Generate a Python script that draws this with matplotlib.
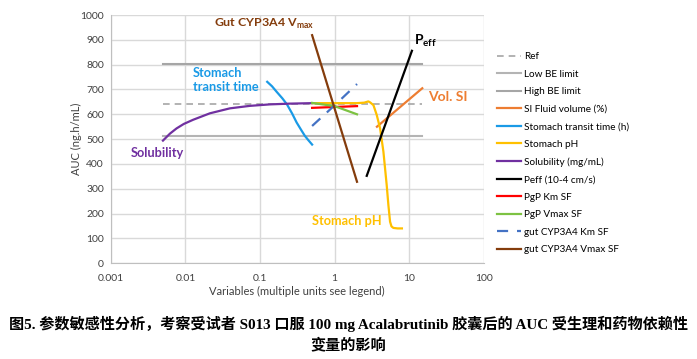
import matplotlib
matplotlib.use("Agg")
import matplotlib.pyplot as plt

plt.rcParams['font.family'] = ['Lato', 'DejaVu Sans']
plt.rcParams['mathtext.fontset'] = 'custom'
plt.rcParams['mathtext.rm'] = 'Lato'
plt.rcParams['mathtext.bf'] = 'Lato:bold'

# reference lines
ref_x = [0.005, 15]
ref_auc = 642
low_be = 514
high_be = 803

# sensitivity curves (x, AUC)
sifluid_x = [3.7, 15]
sifluid_y = [550, 705]

transit_x = [0.125, 0.145, 0.167, 0.2, 0.23, 0.27, 0.31, 0.36, 0.40, 0.45, 0.5]
transit_y = [731, 713, 691, 664, 640, 603, 567, 535, 513, 494, 478]

ph_x = [0.5, 1, 2, 2.5, 2.84, 3.0, 3.32, 3.68, 4.08, 4.52, 5.0, 5.27, 5.55, 5.8, 6.15, 7, 8]
ph_y = [645, 645, 645, 647, 652, 648, 637, 597, 543, 449, 315, 234, 167, 148, 142, 140, 140]

sol_x = [0.005, 0.0062, 0.0076, 0.0095, 0.0127, 0.0213, 0.0395, 0.073, 0.136, 0.25, 0.5]
sol_y = [494, 522, 543, 561, 578, 604, 624, 634, 640, 643, 645]

peff_x = [2.7, 10.9]
peff_y = [352, 856]

pgpkm_x = [0.5, 2]
pgpkm_y = [626, 633]

pgpvmax_x = [0.5, 1, 2]
pgpvmax_y = [646, 633, 600]

cypkm_x = [0.5, 1, 2]
cypkm_y = [553, 636, 722]

cypvmax_x = [0.5, 2]
cypvmax_y = [919, 328]

fig = plt.figure(figsize=(6.97, 3.59), dpi=100)
ax = fig.add_axes([0.159, 0.267, 0.535, 0.691])

ax.plot(ref_x, [ref_auc] * 2, color='#a6a6a6', ls=(0, (4, 3)), lw=1.2, label='Ref')
ax.plot(ref_x, [low_be] * 2, color='#b4b4b4', lw=1.5, label='Low BE limit')
ax.plot(ref_x, [high_be] * 2, color='#a6a6a6', lw=1.5, label='High BE limit')
ax.plot(sifluid_x, sifluid_y, color='#ed7d31', lw=1.6, label='SI Fluid volume (%)')
ax.plot(transit_x, transit_y, color='#1a9ae6', lw=1.6, label='Stomach transit time (h)')
ax.plot(ph_x, ph_y, color='#ffc000', lw=1.6, label='Stomach pH')
ax.plot(sol_x, sol_y, color='#7030a0', lw=1.6, label='Solubility (mg/mL)')
ax.plot(peff_x, peff_y, color='black', lw=1.6, label='Peff (10-4 cm/s)')
ax.plot(pgpkm_x, pgpkm_y, color='#ff0000', lw=1.6, label='PgP Km SF')
ax.plot(pgpvmax_x, pgpvmax_y, color='#7dc242', lw=1.6, label='PgP Vmax SF')
ax.plot(cypkm_x, cypkm_y, color='#4472c4', lw=1.6, ls=(0, (5, 4)), label='gut CYP3A4 Km SF')
ax.plot(cypvmax_x, cypvmax_y, color='#843c0c', lw=1.6, label='gut CYP3A4 Vmax SF')

ax.set_xscale('log')
ax.set_xlim(0.001, 100)
ax.set_ylim(0, 1000)
ax.set_yticks(range(0, 1001, 100))
ax.set_xticks([0.001, 0.01, 0.1, 1, 10, 100])
ax.set_xticklabels(['0.001', '0.01', '0.1', '1', '10', '100'])
ax.minorticks_off()
ax.grid(True, color='#d9d9d9', lw=1)
ax.set_axisbelow(True)
ax.tick_params(length=0, labelsize=7.5, colors='#404040', pad=5)
ax.tick_params(axis='x', pad=8)
for s in ['top', 'right']:
    ax.spines[s].set_visible(False)
for s in ['left', 'bottom']:
    ax.spines[s].set_color('#bfbfbf')
ax.set_xlabel('Variables (multiple units see legend)', fontsize=8, color='#404040', labelpad=2)
ax.set_ylabel('AUC (ng.h/mL)', fontsize=8, color='#404040', labelpad=-1)

# annotations
ax.text(0.0125, 738, 'Stomach\ntransit time', color='#1a9ae6', fontsize=9.2, fontweight='bold',
        va='center', ha='left', linespacing=1.2)
ax.text(0.00185, 446, 'Solubility', color='#7030a0', fontsize=9.2, fontweight='bold', va='center')
ax.text(0.0245, 964, 'Gut CYP3A4 V$_{\\mathbf{max}}$', color='#843c0c', fontsize=8.9,
        fontweight='bold', va='center')
ax.text(11.5, 895, 'P$_{\\mathbf{eff}}$', color='black', fontsize=10, fontweight='bold', va='center')
ax.text(18, 670, 'Vol. SI', color='#ed7d31', fontsize=10, fontweight='bold', va='center')
ax.text(0.5, 169, 'Stomach pH', color='#ffc000', fontsize=9.2, fontweight='bold', va='center')

fig.legend(loc='upper left', bbox_to_anchor=(0.700, 0.880), frameon=False, fontsize=7.2,
           handlelength=2.4, handletextpad=0.3, labelspacing=0.85)

cap_font = ['Liberation Serif', 'Noto Sans CJK SC']
fig.text(0.5, 0.098, '图5. 参数敏感性分析，考察受试者 S013 口服 100 mg Acalabrutinib 胶囊后的 AUC 受生理和药物依赖性',
         ha='center', va='center', fontsize=10.9, fontweight='bold', family=cap_font)
fig.text(0.5, 0.038, '变量的影响', ha='center', va='center', fontsize=10.9, fontweight='bold', family=cap_font)

fig.savefig('out.png', dpi=100)
